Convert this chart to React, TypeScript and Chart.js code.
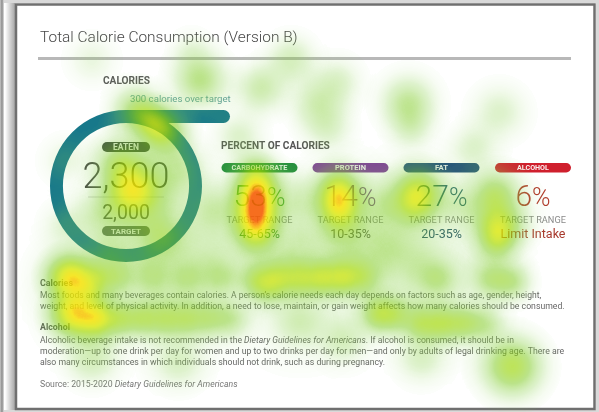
import React, { useEffect, useRef } from "react";
import { Chart, registerables } from "chart.js";
Chart.register(...registerables);

const W = 599;
const H = 412;

// ---------- data ----------
const titleText = "Total Calorie Consumption (Version B)";
const eatenCalories = 2300;
const targetCalories = 2000;
const categories = ["CARBOHYDRATE", "PROTEIN", "FAT", "ALCOHOL"];
const percentValues = [53, 14, 27, 6];
const targetRanges = ["45-65%", "10-35%", "20-35%", "Limit Intake"];

// heatmap fixations: x px, y px, spread, weight (same order in each list)
const heatX = [
  250, 250, 250, 250, 249, 249, 250,
  108, 118, 100, 142, 128, 112,
  345, 345, 345, 345, 348,
  437, 432, 437,
  525, 530, 528, 528,
  33, 35, 36, 60, 45,
  65, 90, 130, 170, 210, 250, 275, 300, 325, 350, 375, 460, 520, 545,
  55, 260,
  120, 200, 280, 360, 440, 520,
  70, 95, 120, 145, 170, 195, 220, 390, 410, 440, 465, 490, 515, 350, 300,
  545, 60, 160, 440,
  80, 72, 140, 90, 160,
  185, 255, 290, 343, 320, 332, 425, 428, 530, 500, 60, 175, 30, 30,
  300, 395, 485, 300, 400, 200, 230,
  150, 300, 450, 400, 180];
const heatY = [
  165, 182, 198, 214, 230, 246, 205,
  188, 200, 160, 113, 100, 88,
  182, 198, 212, 195, 238,
  188, 206, 195,
  190, 232, 250, 215,
  294, 294, 340, 345, 340,
  296, 296, 296, 296, 296, 296, 296, 296, 295, 295, 296, 296, 298, 300,
  307, 307,
  280, 280, 280, 280, 280, 280,
  346, 346, 346, 346, 346, 346, 346, 340, 341, 352, 352, 352, 352, 372, 352,
  405, 395, 400, 395,
  265, 215, 245, 150, 160,
  50, 60, 25, 52, 78, 108, 78, 108, 90, 135, 25, 15, 150, 230,
  200, 205, 205, 255, 260, 210, 120,
  320, 320, 320, 240, 250];
const heatR = [
  14, 14, 14, 14, 14, 14, 24,
  18, 28, 18, 16, 12, 16,
  14, 14, 14, 24, 18,
  16, 14, 26,
  16, 16, 12, 26,
  15, 26, 15, 14, 26,
  13, 13, 13, 13, 13, 13, 13, 13, 13, 13, 13, 13, 13, 13,
  13, 13,
  20, 20, 20, 20, 20, 20,
  13, 13, 13, 13, 13, 13, 13, 13, 13, 13, 13, 13, 13, 16, 16,
  20, 18, 18, 16,
  18, 18, 16, 18, 18,
  18, 16, 16, 16, 18, 16, 18, 14, 18, 16, 16, 14, 16, 16,
  18, 16, 16, 18, 18, 16, 16,
  40, 40, 40, 40, 40];
const heatW = [
  0.25, 0.33, 0.35, 0.35, 0.33, 0.24, 0.24,
  0.5, 0.22, 0.15, 0.5, 0.2, 0.35,
  0.3, 0.3, 0.25, 0.15, 0.2,
  0.4, 0.2, 0.12,
  0.3, 0.45, 0.2, 0.12,
  0.6, 0.12, 0.55, 0.3, 0.12,
  0.18, 0.2, 0.15, 0.15, 0.15, 0.22, 0.25, 0.28, 0.35, 0.35, 0.22, 0.18, 0.2, 0.25,
  0.22, 0.2,
  0.08, 0.08, 0.1, 0.1, 0.1, 0.1,
  0.28, 0.28, 0.26, 0.24, 0.24, 0.22, 0.2, 0.35, 0.25, 0.3, 0.3, 0.28, 0.2, 0.15, 0.12,
  0.47, 0.17, 0.13, 0.13,
  0.18, 0.18, 0.21, 0.21, 0.21,
  0.3, 0.21, 0.17, 0.13, 0.17, 0.13, 0.26, 0.13, 0.13, 0.13, 0.08, 0.08, 0.08, 0.1,
  0.13, 0.13, 0.13, 0.13, 0.13, 0.13, 0.13,
  0.1, 0.1, 0.1, 0.12, 0.12];

// ---------- styles ----------
const FONT = "Roboto, 'Noto Sans', sans-serif";
const ringColor = "#17788a";
const categoryColors = ["#1f8b3b", "#7e3f98", "#1d4a7c", "#cf1f2d"];
const valueColors = ["#3c9a45", "#7c4a94", "#1f5a72", "#b23a2c"];
const rangeColors = ["#2f7f3f", "#5a5a5a", "#24506a", "#a83a2e"];
const barPxPerCalorie = 104 / 300;
const spreadScale = 2.6;

type Seg = { t: string; italic?: boolean };

function fitLine(ctx: CanvasRenderingContext2D, segs: Seg[], x: number, yMid: number, width: number,
  weight: string, color: string, align: "left" | "center" = "left") {
  const base = 10;
  const font = (s: Seg, size: number) => `${s.italic ? "italic " : ""}${weight} ${size}px ${FONT}`;
  let total = 0;
  segs.forEach((s) => { ctx.font = font(s, base); total += ctx.measureText(s.t).width; });
  const size = (base * width) / total;
  let cx = align === "center" ? x - width / 2 : x;
  ctx.fillStyle = color;
  ctx.textBaseline = "middle";
  ctx.textAlign = "left";
  segs.forEach((s) => {
    ctx.font = font(s, size);
    ctx.fillText(s.t, cx, yMid);
    cx += ctx.measureText(s.t).width;
  });
}

function pill(ctx: CanvasRenderingContext2D, cx: number, y0: number, w: number, h: number, color: string,
  label: string, textW: number) {
  ctx.fillStyle = color;
  ctx.beginPath();
  ctx.roundRect(cx - w / 2, y0, w, h, h / 2);
  ctx.fill();
  fitLine(ctx, [{ t: label }], cx, y0 + h / 2 + 0.5, textW, "700", "rgba(255,255,255,0.92)", "center");
}

const infographicPlugin = {
  id: "infographic",
  beforeDraw(chart: any) {
    const ctx: CanvasRenderingContext2D = chart.ctx;
    ctx.save();
    ctx.fillStyle = "#ffffff";
    ctx.fillRect(0, 0, W, H);
    ctx.fillStyle = "#d9d9d9";
    ctx.fillRect(0, 0, W, 3);
    ctx.fillRect(596, 0, 3, H);
    ctx.fillRect(0, 410, W, 2);
    const lg = ctx.createLinearGradient(0, 0, 4, 0);
    lg.addColorStop(0, "#c8c8c8");
    lg.addColorStop(0.5, "#8a8a8a");
    lg.addColorStop(1, "#e0e0e0");
    ctx.fillStyle = lg;
    ctx.fillRect(0, 0, 4, H);
    const sg = ctx.createLinearGradient(5, 0, 15, 0);
    sg.addColorStop(0, "rgba(0,0,0,0)");
    sg.addColorStop(1, "rgba(0,0,0,0.35)");
    ctx.fillStyle = sg;
    ctx.fillRect(5, 3, 10, 407);
    ctx.strokeStyle = "#6f6f6f";
    ctx.lineWidth = 2.5;
    ctx.strokeRect(16, 4.5, 578.5, 404.5);

    fitLine(ctx, [{ t: titleText }], 40, 38, 258, "300", "#474747");
    ctx.fillStyle = "#b8b8b8";
    ctx.fillRect(38, 57, 533, 3);

    fitLine(ctx, [{ t: "CALORIES" }], 103, 81, 47, "700", "#5a5a5a");
    fitLine(ctx, [{ t: `${(eatenCalories - targetCalories).toLocaleString("en-US")} calories over target` }],
      130, 100, 101, "400", "#5c9c9e");

    const cx = 126;
    pill(ctx, cx, 142, 48, 10, "#38443a", "EATEN", 26);
    ctx.fillStyle = "#444";
    ctx.textAlign = "center";
    ctx.textBaseline = "alphabetic";
    ctx.font = `300 36px ${FONT}`;
    ctx.fillText(eatenCalories.toLocaleString("en-US"), cx, 188);
    ctx.fillStyle = "#d4d4d4";
    ctx.fillRect(88, 196.5, 76, 1);
    ctx.fillStyle = "#555";
    ctx.font = `400 19.5px ${FONT}`;
    ctx.fillText(targetCalories.toLocaleString("en-US"), cx, 219);
    pill(ctx, cx, 226, 48, 10, "#5e6c5f", "TARGET", 30);

    fitLine(ctx, [{ t: "PERCENT OF CALORIES" }], 221, 146, 109, "700", "#555");
    const centers = [259.5, 350.5, 441.5, 533];
    const labelW = [56, 31, 13, 32];
    categories.forEach((c, i) => {
      pill(ctx, centers[i], 163, 76, 9.5, categoryColors[i], c, labelW[i]);
      const num = String(percentValues[i]);
      ctx.textBaseline = "alphabetic";
      ctx.textAlign = "left";
      ctx.font = `300 30px ${FONT}`;
      const wn = ctx.measureText(num).width;
      ctx.font = `300 25px ${FONT}`;
      const wp = ctx.measureText("%").width;
      const x0 = centers[i] - (wn + wp) / 2;
      ctx.fillStyle = valueColors[i];
      ctx.font = `300 30px ${FONT}`;
      ctx.fillText(num, x0, 206);
      ctx.font = `300 25px ${FONT}`;
      ctx.fillText("%", x0 + wn, 206);
      fitLine(ctx, [{ t: "TARGET RANGE" }], centers[i], 221, 66, "400", "#8a8a8a", "center");
      ctx.fillStyle = rangeColors[i];
      ctx.textAlign = "center";
      ctx.textBaseline = "middle";
      ctx.font = `400 12.5px ${FONT}`;
      ctx.fillText(targetRanges[i], centers[i], 234.5);
    });

    const bodyColor = "#666";
    fitLine(ctx, [{ t: "Calories" }], 40, 284, 33, "700", "#555");
    fitLine(ctx, [{ t: "Most foods and many beverages contain calories. A person\u2019s calorie needs each day depends on factors such as age, gender, height," }], 40, 296, 502, "400", bodyColor);
    fitLine(ctx, [{ t: "weight, and level of physical activity. In addition, a need to lose, maintain, or gain weight affects how many calories should be consumed." }], 40, 306.5, 525, "400", bodyColor);
    fitLine(ctx, [{ t: "Alcohol" }], 40, 328, 30, "700", "#555");
    fitLine(ctx, [{ t: "Alcoholic beverage intake is not recommended in the " }, { t: "Dietary Guidelines for Americans", italic: true }, { t: ". If alcohol is consumed, it should be in" }], 40, 341, 475, "400", bodyColor);
    fitLine(ctx, [{ t: "moderation\u2014up to one drink per day for women and up to two drinks per day for men\u2014and only by adults of legal drinking age. There are" }], 40, 352, 525, "400", bodyColor);
    fitLine(ctx, [{ t: "also many circumstances in which individuals should not drink, such as during pregnancy." }], 40, 363, 345, "400", bodyColor);
    fitLine(ctx, [{ t: "Source: 2015-2020 " }, { t: "Dietary Guidelines for Americans", italic: true }], 40, 385, 198, "400", "#777");
    ctx.restore();
  },
  afterDatasetsDraw(chart: any) {
    const ctx: CanvasRenderingContext2D = chart.ctx;
    const arc = chart.getDatasetMeta(0).data[0];
    const { x, y, outerRadius, innerRadius } = arc.getProps(["x", "y", "outerRadius", "innerRadius"], true);
    const top = y - outerRadius;
    const h = outerRadius - innerRadius;
    const len = (eatenCalories - targetCalories) * barPxPerCalorie;
    ctx.save();
    ctx.fillStyle = ringColor;
    ctx.beginPath();
    ctx.roundRect(x, top, len, h, [0, h / 2, h / 2, 0]);
    ctx.fill();
    ctx.restore();
  },
};

const stops = [
  [0.0, 150, 215, 100, 0],
  [0.12, 140, 210, 80, 0.28],
  [0.3, 125, 202, 30, 0.52],
  [0.5, 160, 215, 0, 0.68],
  [0.68, 215, 230, 0, 0.78],
  [0.82, 245, 225, 0, 0.84],
  [0.92, 250, 160, 0, 0.86],
  [1.0, 245, 90, 0, 0.88],
];
function colormap(t: number) {
  for (let i = 1; i < stops.length; i++) {
    if (t <= stops[i][0]) {
      const a = stops[i - 1], b = stops[i];
      const f = (t - a[0]) / (b[0] - a[0]);
      return [a[1] + (b[1] - a[1]) * f, a[2] + (b[2] - a[2]) * f, a[3] + (b[3] - a[3]) * f, a[4] + (b[4] - a[4]) * f];
    }
  }
  const l = stops[stops.length - 1];
  return [l[1], l[2], l[3], l[4]];
}

const gaussStops = [0, 0.1, 0.2, 0.3, 0.4, 0.5, 0.6, 0.7, 0.8, 0.9, 1];

const heatPlugin = {
  id: "heat",
  afterDatasetsDraw(chart: any) {
    const meta = chart.getDatasetMeta(0);
    const off = document.createElement("canvas");
    off.width = W;
    off.height = H;
    const o = off.getContext("2d")!;
    o.globalCompositeOperation = "lighter";
    meta.data.forEach((el: any, i: number) => {
      const { x, y } = el.getProps(["x", "y"], true);
      const r = chart.data.datasets[0].data[i].r * spreadScale;
      const w = heatW[i];
      const g = o.createRadialGradient(x, y, 0, x, y, r);
      gaussStops.forEach((s) => {
        const a = s >= 1 ? 0 : w * Math.exp(-4 * s * s);
        g.addColorStop(s, `rgba(0,0,0,${a.toFixed(4)})`);
      });
      o.fillStyle = g;
      o.fillRect(x - r, y - r, 2 * r, 2 * r);
    });
    const img = o.getImageData(0, 0, W, H);
    const d = img.data;
    for (let p = 0; p < d.length; p += 4) {
      const t = d[p + 3] / 255;
      if (t < 0.01) { d[p + 3] = 0; continue; }
      const c = colormap(t);
      d[p] = c[0]; d[p + 1] = c[1]; d[p + 2] = c[2]; d[p + 3] = c[3] * 255;
    }
    const out = document.createElement("canvas");
    out.width = W;
    out.height = H;
    out.getContext("2d")!.putImageData(img, 0, 0);
    chart.ctx.drawImage(out, 0, 0);
  },
};

export default function App() {
  const baseRef = useRef<HTMLCanvasElement>(null);
  const heatRef = useRef<HTMLCanvasElement>(null);
  useEffect(() => {
    const c1 = new Chart(baseRef.current!, {
      type: "doughnut",
      data: {
        labels: ["Target"],
        datasets: [{ data: [targetCalories], backgroundColor: [ringColor], borderWidth: 0 }],
      },
      options: {
        responsive: false,
        animation: false,
        devicePixelRatio: 1,
        cutout: "83%",
        events: [],
        layout: { padding: { left: 50, right: 397, top: 110, bottom: 150 } },
        plugins: { legend: { display: false }, tooltip: { enabled: false } },
      },
      plugins: [infographicPlugin],
    } as any);
    const c2 = new Chart(heatRef.current!, {
      type: "bubble",
      data: {
        datasets: [{
          data: heatX.map((x, i) => ({ x, y: heatY[i], r: heatR[i] })),
          backgroundColor: "rgba(0,0,0,0)",
          borderWidth: 0,
          clip: false,
        }],
      },
      options: {
        responsive: false,
        animation: false,
        devicePixelRatio: 1,
        events: [],
        layout: { padding: 0 },
        scales: {
          x: { type: "linear", min: 0, max: W, display: false },
          y: { type: "linear", min: 0, max: H, reverse: true, display: false },
        },
        plugins: { legend: { display: false }, tooltip: { enabled: false } },
      },
      plugins: [heatPlugin],
    } as any);
    return () => { c1.destroy(); c2.destroy(); };
  }, []);
  return (
    <div style={{ position: "fixed", left: 0, top: 0, width: W, height: H, background: "#fff" }}>
      <canvas ref={baseRef} width={W} height={H} style={{ position: "absolute", left: 0, top: 0 }} />
      <canvas ref={heatRef} width={W} height={H} style={{ position: "absolute", left: 0, top: 0, pointerEvents: "none" }} />
    </div>
  );
}
